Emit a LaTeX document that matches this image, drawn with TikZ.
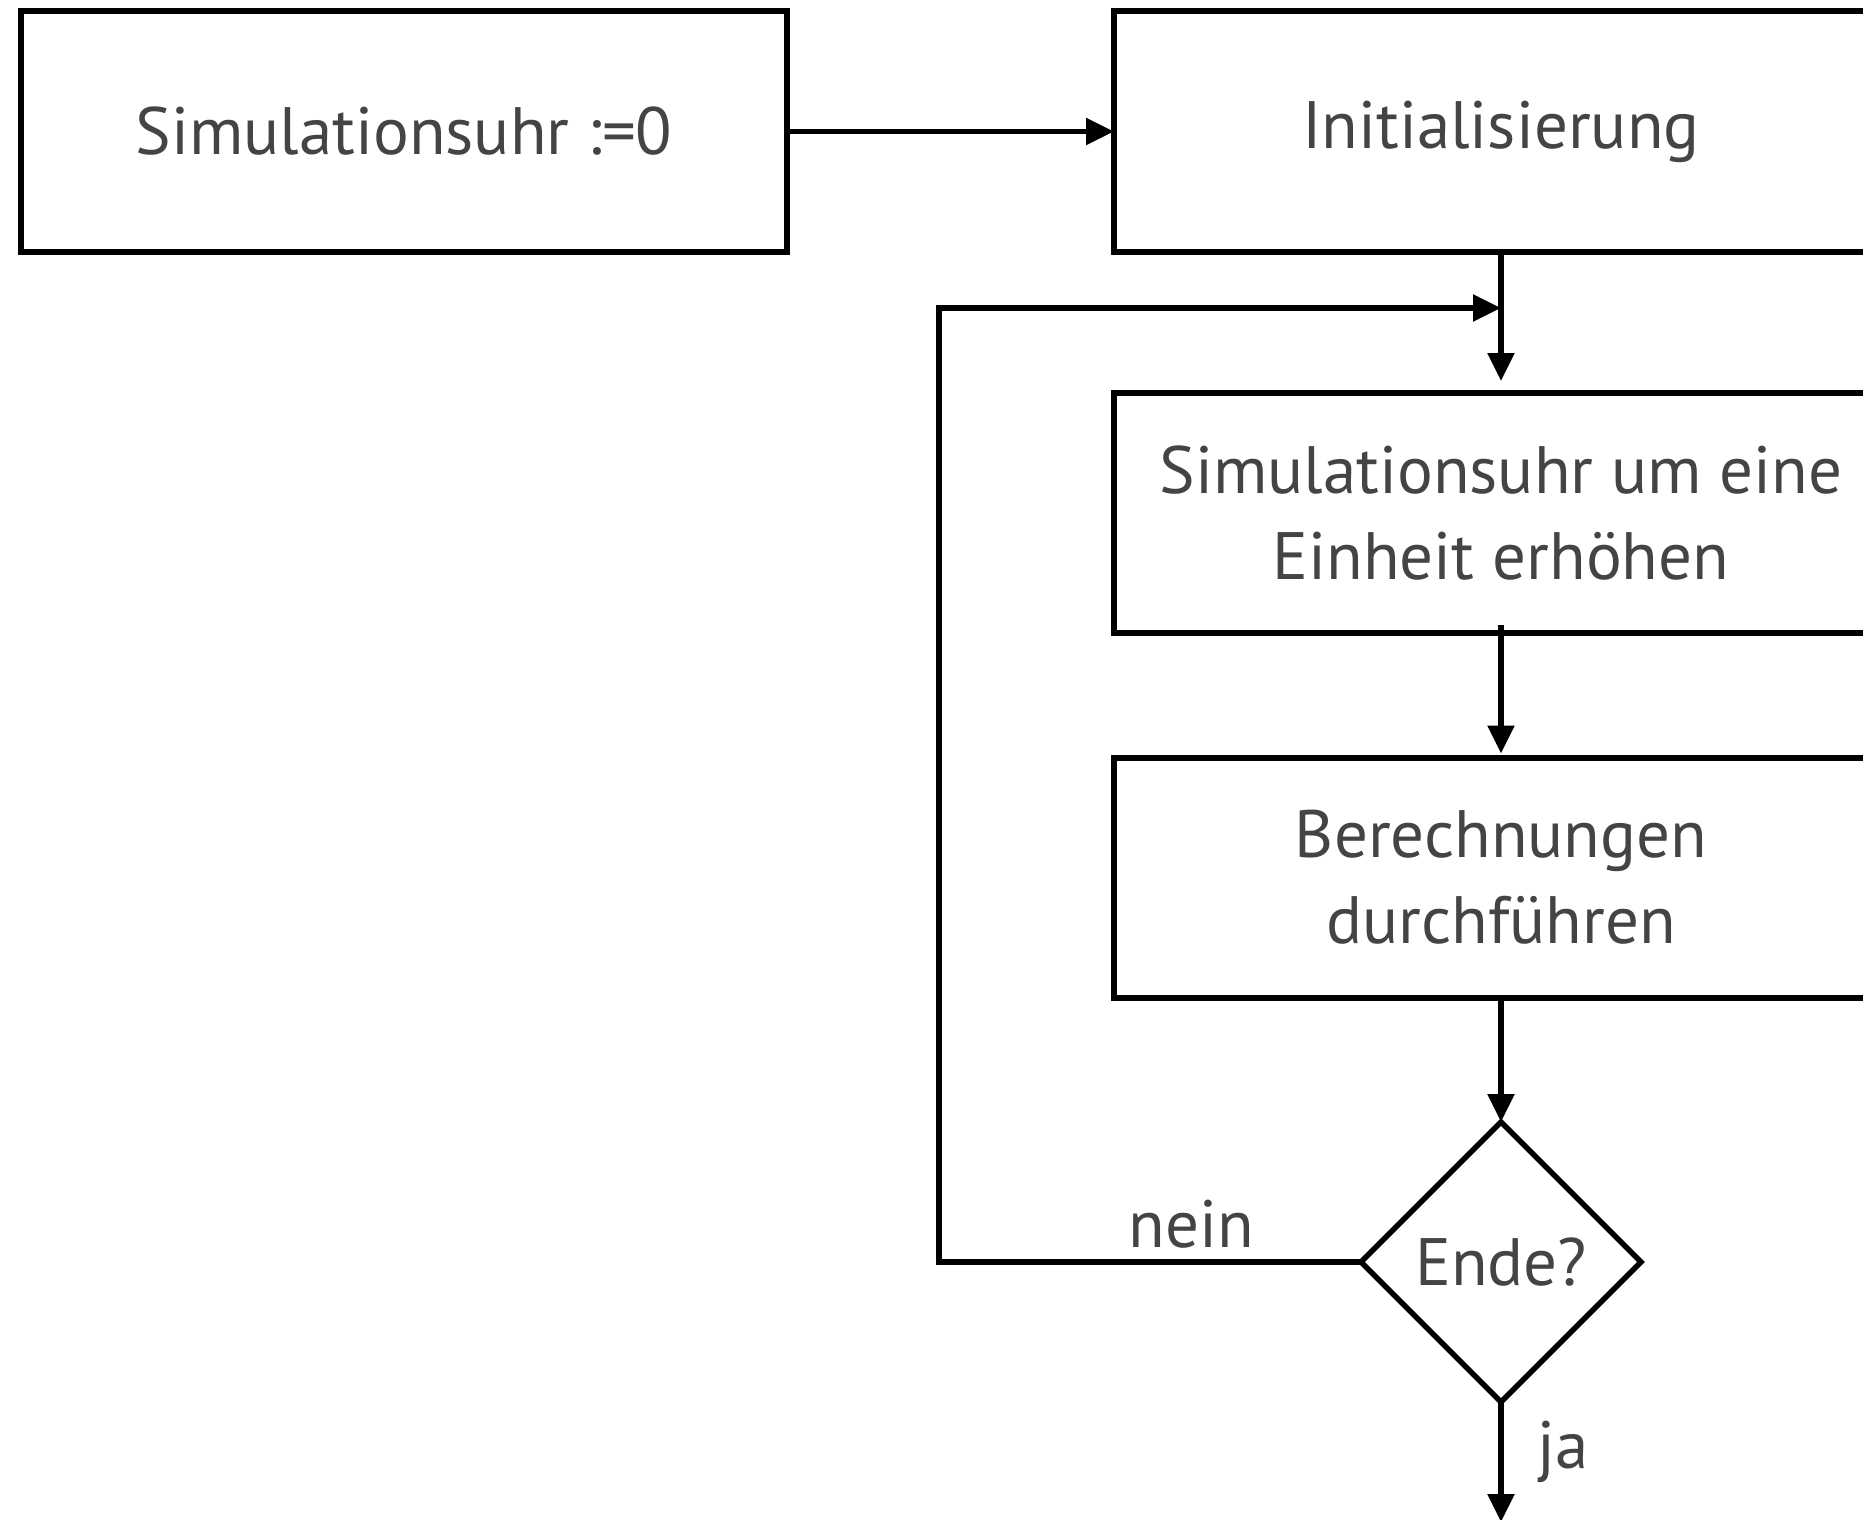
\documentclass[tikz,border=0pt]{standalone}
\usepackage{fontspec}
\setmainfont{PT Sans}
\usetikzlibrary{arrows.meta,shapes.geometric}
\definecolor{labelgray}{HTML}{444444}
\begin{document}
\begin{tikzpicture}[x=0.5pt,y=-0.5pt,
  every node/.style={text=labelgray,font=\fontsize{33.5}{43}\selectfont},
  procbox/.style={draw=black,line width=3pt,rectangle,minimum width=387pt,
    minimum height=120pt,inner sep=0pt,outer sep=0pt,align=center},
  decision/.style={draw=black,line width=2.8pt,diamond,minimum width=140pt,
    minimum height=140pt,inner sep=0pt,outer sep=0pt,aspect=1},
  flow/.style={line width=2.8pt,-{Triangle[length=14pt,width=13pt]}},
  plain/.style={line width=2.8pt}]
  \useasboundingbox (0,0) rectangle (1863,1520);
  \clip (0,0) rectangle (1863,1520);

  % process steps
  \node[procbox,minimum width=383pt] (start) at (404,131.5) {Simulationsuhr :=0};
  \node[procbox] (init) at (1501,131.5) {Initialisierung};
  \node[procbox] (tick) at (1501,513) {Simulationsuhr um eine\\Einheit erhöhen};
  \node[procbox] (calc) at (1501,877.5) {Berechnungen\\durchführen};
  \node[decision] (done) at (1501,1262) {Ende?};

  % loop junction and free ends
  \coordinate (join) at (1501,308);
  \coordinate (loopbot) at (939,1262);
  \coordinate (looptop) at (939,308);
  \coordinate (exit) at (1501,1522);

  % connectors
  \draw[flow] (start.east) -- (init.west);
  \draw[plain] (init.south) -- (join);
  \draw[flow,shorten >=6pt] (join) -- (tick.north);
  \draw[flow,shorten >=2pt] ([yshift=4pt]tick.south) -- (calc.north);
  \draw[flow] (calc.south) -- (done.north);
  \draw[plain] (done.west) -- (loopbot) -- ([yshift=-1.1pt]looptop);
  \draw[flow] ([xshift=-1.4pt]looptop) -- (join);
  \draw[flow] (done.south) -- (exit);

  % branch labels
  \node at (1191,1224) {nein};
  \node at (1563,1452) {ja};
\end{tikzpicture}
\end{document}
